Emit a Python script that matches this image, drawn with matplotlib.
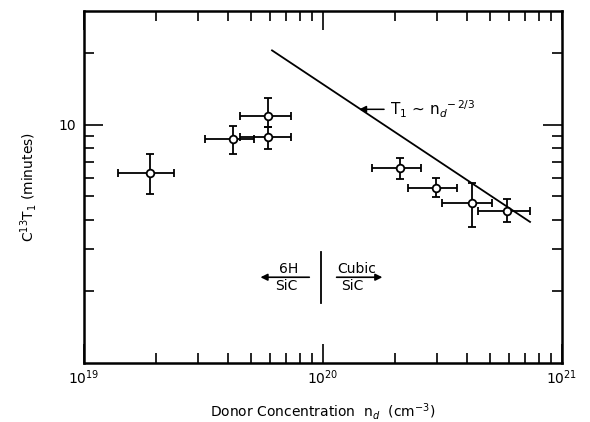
import matplotlib
matplotlib.use('Agg')
import matplotlib.pyplot as plt
from matplotlib.ticker import LogLocator, NullFormatter, FixedLocator, FixedFormatter
import numpy as np

# donor concentration (cm^-3) and T1 (minutes) with error limits
nd = [1.88e19, 4.2e19, 5.9e19, 5.9e19, 2.1e20, 2.96e20, 4.2e20, 5.9e20]
nd_lo = [1.39e19, 3.21e19, 4.5e19, 4.5e19, 1.61e20, 2.26e20, 3.16e20, 4.44e20]
nd_hi = [2.38e19, 5.16e19, 7.35e19, 7.35e19, 2.57e20, 3.65e20, 5.11e20, 7.35e20]
t1 = [6.28, 8.69, 10.84, 8.91, 6.57, 5.43, 4.70, 4.35]
t1_lo = [5.10, 7.54, 9.8, 7.91, 5.93, 4.98, 3.72, 3.89]
t1_hi = [7.52, 9.9, 12.93, 9.75, 7.24, 5.98, 5.69, 4.89]

# T1 ~ nd^-2/3 line
fit_x = np.array([6.12e19, 7.35e20])
fit_y = 20.5 * (fit_x / fit_x[0]) ** (-2.0 / 3.0)

plt.rcParams['font.family'] = 'DejaVu Sans'
fig = plt.figure(figsize=(5.9, 4.22), dpi=100)
ax = fig.add_axes([0.1424, 0.1398, 0.8101, 0.8342])

nd = np.array(nd); t1 = np.array(t1)
xerr = [nd - np.array(nd_lo), np.array(nd_hi) - nd]
yerr = [t1 - np.array(t1_lo), np.array(t1_hi) - t1]
ax.errorbar(nd, t1, xerr=xerr, yerr=yerr, fmt='o', color='k', mfc='white',
            mec='k', ms=5.5, mew=1.3, elinewidth=1.3, capsize=3, capthick=1.3, zorder=3)
ax.plot(fit_x, fit_y, color='k', lw=1.3)

ax.set_xscale('log')
ax.set_yscale('log')
ax.set_xlim(1e19, 1e21)
ax.set_ylim(1, 30)

ax.xaxis.set_major_locator(FixedLocator([1e19, 1e20, 1e21]))
ax.xaxis.set_major_formatter(FixedFormatter([r'$10^{19}$', r'$10^{20}$', r'$10^{21}$']))
ax.xaxis.set_minor_locator(LogLocator(base=10, subs=np.arange(2, 10)))
ax.xaxis.set_minor_formatter(NullFormatter())
ax.yaxis.set_major_locator(FixedLocator([10]))
ax.yaxis.set_major_formatter(FixedFormatter(['10']))
ax.yaxis.set_minor_locator(FixedLocator([2, 3, 4, 5, 6, 7, 8, 9, 20]))
ax.yaxis.set_minor_formatter(NullFormatter())

ax.tick_params(which='both', direction='in', top=True, right=True, width=1.2, labelsize=10)
ax.tick_params(which='major', length=14)
ax.tick_params(which='minor', length=7)
ax.tick_params(axis='x', which='major', pad=4)
ax.tick_params(axis='y', which='major', pad=6)
for s in ax.spines.values():
    s.set_linewidth(1.8)

ax.set_xlabel(r'Donor Concentration  n$_d$  (cm$^{-3}$)', fontsize=10, labelpad=10)
ax.set_ylabel(r'C$^{13}$T$_1$ (minutes)', fontsize=10, labelpad=14)

ax.annotate(r'T$_1$ ~ n$_d$$^{-\,2/3}$', xy=(1.38e20, 11.6), xytext=(1.9e20, 11.6),
            va='center', fontsize=11,
            arrowprops=dict(arrowstyle='-|>', color='k', lw=1.1, mutation_scale=10))

# 6H / Cubic inset
ax.plot([9.8e19, 9.8e19], [1.79, 2.93], color='k', lw=1.3)
ax.annotate('', xy=(5.33e19, 2.29), xytext=(9.0e19, 2.29),
            arrowprops=dict(arrowstyle='-|>', color='k', lw=1.2, mutation_scale=10))
ax.annotate('', xy=(1.82e20, 2.29), xytext=(1.11e20, 2.29),
            arrowprops=dict(arrowstyle='-|>', color='k', lw=1.2, mutation_scale=10))
ax.text(7.2e19, 2.48, '6H', ha='center', va='center', fontsize=10)
ax.text(7.0e19, 2.1, 'SiC', ha='center', va='center', fontsize=10)
ax.text(1.38e20, 2.48, 'Cubic', ha='center', va='center', fontsize=10)
ax.text(1.33e20, 2.1, 'SiC', ha='center', va='center', fontsize=10)

fig.savefig('out.png', dpi=100)
